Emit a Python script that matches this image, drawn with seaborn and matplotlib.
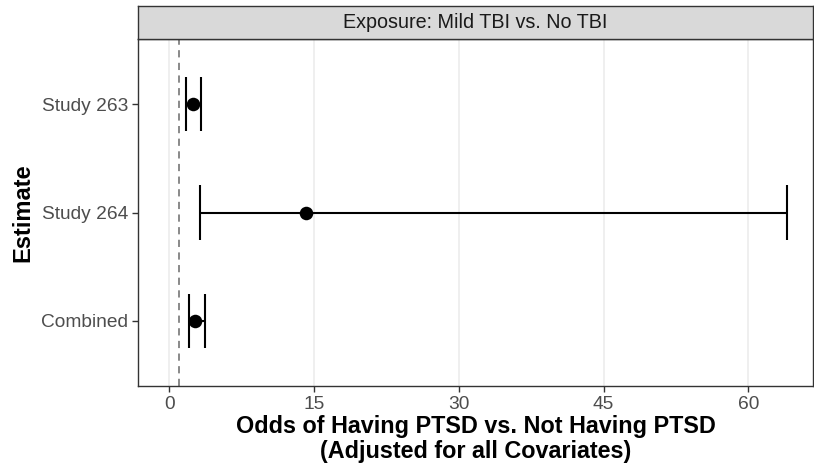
import numpy as np
import pandas as pd
import matplotlib
matplotlib.use("Agg")
import matplotlib.pyplot as plt
import seaborn as sns

# data
estimates = ["Study 263", "Study 264", "Combined"]
odds = [2.4, 14.2, 2.7]
lower = [1.7, 3.2, 2.0]
upper = [3.25, 64.0, 3.7]
facet_title = "Exposure: Mild TBI vs. No TBI"
x_ticks = [0, 15, 30, 45, 60]

df = pd.DataFrame({"Estimate": estimates, "odds": odds, "lo": lower, "hi": upper})
df["pos"] = np.arange(len(df))

sns.set_theme(style="white")
plt.rcParams['font.family'] = ['Liberation Sans', 'DejaVu Sans']

fig = plt.figure(figsize=(8.14, 4.66), dpi=100)
ax = fig.add_axes([138/814, 80/466, 675/814, 347/466])
strip = fig.add_axes([138/814, 427/466, 675/814, 33/466])

# reference line at OR = 1
ax.axvline(1, color="#808080", lw=1.3, ls=(0, (4, 3)), zorder=1)

# confidence intervals
ax.hlines(df["pos"], df["lo"], df["hi"], color="black", lw=1.5, zorder=2)
ax.vlines(df["lo"], df["pos"] - 0.25, df["pos"] + 0.25, color="black", lw=1.5, zorder=2)
ax.vlines(df["hi"], df["pos"] - 0.25, df["pos"] + 0.25, color="black", lw=1.5, zorder=2)

sns.scatterplot(data=df, x="odds", y="pos", ax=ax, s=95, color="black",
                edgecolor="black", linewidth=0, zorder=3, legend=False)

ax.set_xlim(-3.25, 66.7)
ax.set_ylim(2.6, -0.6)
ax.set_xticks(x_ticks)
ax.set_yticks(df["pos"])
ax.set_yticklabels(df["Estimate"])
ax.grid(axis="x", color="#EBEBEB", lw=1.1, zorder=0)
ax.grid(axis="y", visible=False)
ax.set_axisbelow(True)
for sp in ax.spines.values():
    sp.set_color("#333333")
    sp.set_linewidth(1.0)
ax.tick_params(axis="both", which="major", length=4, width=1.0, color="#333333",
               labelsize=13.8, labelcolor="#4D4D4D", bottom=True, left=True, pad=3)
ax.set_xlabel("Odds of Having PTSD vs. Not Having PTSD\n(Adjusted for all Covariates)",
              fontsize=16.8, fontweight="bold", color="black", labelpad=2, linespacing=1.1)
ax.set_ylabel("Estimate", fontsize=17, fontweight="bold", color="black", labelpad=5)

# facet strip
strip.set_facecolor("#D9D9D9")
strip.set_xticks([])
strip.set_yticks([])
for sp in strip.spines.values():
    sp.set_color("#333333")
    sp.set_linewidth(1.0)
strip.text(0.5, 0.5, facet_title, ha="center", va="center", fontsize=14.2,
           color="#1A1A1A", transform=strip.transAxes)

fig.savefig("out.png", dpi=100)
